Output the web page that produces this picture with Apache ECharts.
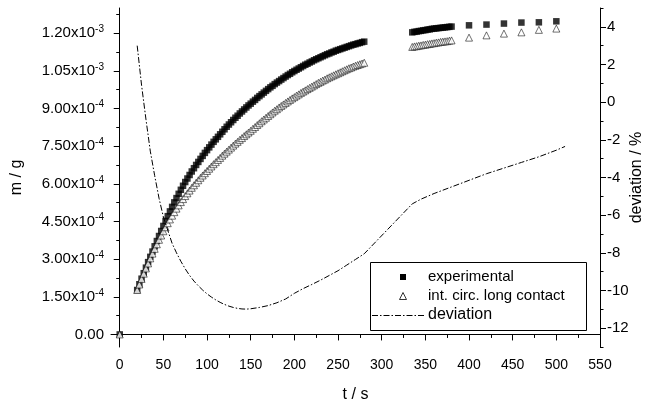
<!DOCTYPE html>
<html><head><meta charset="utf-8">
<script src="https://cdn.jsdelivr.net/npm/echarts@6/dist/echarts.min.js"></script>
<style>html,body{margin:0;padding:0;background:#fff}#c{width:649px;height:402px}</style>
</head><body><div id="c"></div>
<script>
// time (s) for the mass series
const timeS = [0,
 20,22.5,25,27.5,30,32.5,35,37.5,40,42.5,45,47.5,50,52.5,55,57.5,60,62.5,65,67.5,70,72.5,75,77.5,80,82.5,85,87.5,90,92.5,95,97.5,
 100,102.5,105,107.5,110,112.5,115,117.5,120,122.5,125,127.5,130,132.5,135,137.5,140,142.5,145,147.5,150,152.5,155,157.5,160,162.5,165,167.5,170,172.5,175,177.5,180,182.5,185,187.5,190,192.5,195,197.5,
 200,202.5,205,207.5,210,212.5,215,217.5,220,222.5,225,227.5,230,232.5,235,237.5,240,242.5,245,247.5,250,252.5,255,257.5,260,262.5,265,267.5,270,272.5,275,277.5,280,
 335,337.5,340,342.5,345,347.5,350,352.5,355,357.5,360,362.5,365,367.5,370,372.5,375,377.5,380,
 400,420,440,460,480,500];
// experimental mass, in units of 1e-3 g
const experimentalMg = [0,
 0.177,0.200,0.222,0.244,0.266,0.288,0.309,0.330,0.351,0.372,0.392,0.412,0.432,0.452,0.471,0.490,0.508,0.526,0.543,0.560,0.576,0.592,0.607,0.621,0.635,0.649,0.662,0.675,0.687,0.699,0.711,0.723,
 0.734,0.745,0.756,0.767,0.777,0.787,0.797,0.807,0.817,0.827,0.836,0.845,0.854,0.863,0.871,0.880,0.888,0.896,0.904,0.912,0.919,0.927,0.934,0.942,0.949,0.956,0.963,0.970,0.977,0.984,0.990,0.997,1.003,1.009,1.015,1.021,1.027,1.033,1.038,1.044,
 1.049,1.054,1.059,1.064,1.069,1.074,1.078,1.083,1.087,1.092,1.096,1.100,1.104,1.108,1.112,1.116,1.119,1.123,1.126,1.130,1.133,1.136,1.139,1.142,1.145,1.148,1.151,1.154,1.156,1.159,1.161,1.164,1.166,
 1.203,1.205,1.206,1.208,1.209,1.211,1.212,1.214,1.215,1.217,1.218,1.219,1.220,1.221,1.222,1.223,1.224,1.225,1.226,
 1.231,1.234,1.238,1.242,1.243,1.247];
// model "int. circ. long contact", in units of 1e-3 g
const modelMg = [0,
 0.177,0.199,0.221,0.242,0.263,0.283,0.303,0.322,0.341,0.359,0.377,0.394,0.411,0.427,0.443,0.458,0.473,0.487,0.501,0.514,0.527,0.539,0.551,0.562,0.573,0.584,0.594,0.604,0.614,0.624,0.633,0.642,
 0.651,0.660,0.669,0.678,0.686,0.695,0.703,0.712,0.720,0.728,0.736,0.744,0.752,0.760,0.767,0.775,0.782,0.790,0.797,0.804,0.811,0.819,0.826,0.834,0.841,0.849,0.856,0.863,0.870,0.877,0.884,0.891,0.897,0.904,0.910,0.916,0.922,0.928,0.934,0.940,
 0.945,0.951,0.956,0.962,0.967,0.972,0.977,0.982,0.987,0.992,0.997,1.002,1.006,1.011,1.015,1.020,1.024,1.028,1.032,1.036,1.040,1.044,1.048,1.052,1.056,1.060,1.063,1.067,1.070,1.073,1.076,1.079,1.082,
 1.145,1.147,1.148,1.150,1.151,1.153,1.154,1.156,1.157,1.159,1.160,1.162,1.163,1.165,1.166,1.167,1.168,1.170,1.171,
 1.182,1.191,1.198,1.203,1.213,1.218];
// deviation (%)
const devT = [20,25,30,35,40,45,50,55,60,65,70,75,80,85,90,95,100,105,110,115,120,125,130,135,140,145,150,160,170,180,190,200,210,220,230,240,250,260,270,280,335,345,360,380,400,420,440,460,480,500,510];
const devPct = [3.0,0.9,-0.9,-2.6,-3.9,-5.1,-6.1,-6.8,-7.5,-8.0,-8.45,-8.85,-9.2,-9.5,-9.75,-9.98,-10.18,-10.35,-10.5,-10.63,-10.74,-10.83,-10.9,-10.95,-10.98,-10.99,-10.97,-10.9,-10.8,-10.65,-10.45,-10.15,-9.9,-9.68,-9.45,-9.2,-8.95,-8.65,-8.35,-8.05,-5.4,-5.15,-4.85,-4.5,-4.15,-3.8,-3.5,-3.2,-2.9,-2.55,-2.35];

// ticks
const xTicks = [0,50,100,150,200,250,300,350,400,450,500,550];
const xMinor = [25,75,125,175,225,275,325,375,425,475,525];
const mTicks = [0,0.00015,0.0003,0.00045,0.0006,0.00075,0.0009,0.00105,0.0012];
const mMinor = [0.000075,0.000225,0.000375,0.000525,0.000675,0.000825,0.000975,0.001125,0.001275];
const devTicks = [-12,-10,-8,-6,-4,-2,0,2,4];
const devMinor = [-13,-11,-9,-7,-5,-3,-1,1,3,5];

// legend entries
const legendNames = ['experimental','int. circ. long contact','deviation'];

const MG = 1e-3;
const expData = timeS.map((t,i)=>[t, experimentalMg[i]*MG]);
const modData = timeS.map((t,i)=>[t, modelMg[i]*MG]);
const devData = devT.map((t,i)=>[t, devPct[i]]);

const FONT = '"Liberation Sans", Arial, sans-serif';
const black = '#000';
const DASHDOT = [6,2,1.5,2];

function mLabel(v){
  if (Math.abs(v) < 1e-12) return '{b|0.00}';
  const e = Math.floor(Math.log10(v) + 1e-9);
  const mant = v / Math.pow(10, e);
  return '{b|' + mant.toFixed(2) + 'x10}{s|' + e + '}';
}

const chart = echarts.init(document.getElementById('c'), null, {renderer:'canvas'});
const axisLine = {show:true, lineStyle:{color:black, width:1}};
chart.setOption({
  animation:false,
  backgroundColor:'#fff',
  textStyle:{fontFamily:FONT, color:black},
  grid:{left:111, right:49, top:8, bottom:55, containLabel:false, outerBoundsMode:'none'},
  xAxis:[
    {type:'value', min:-10, max:550, position:'bottom', axisLine,
     axisTick:{show:true, customValues:xTicks, length:6, lineStyle:{color:black}},
     axisLabel:{show:true, customValues:xTicks, fontSize:14, color:black, margin:11, fontFamily:FONT},
     splitLine:{show:false},
     name:'t / s', nameLocation:'middle', nameGap:40, nameTextStyle:{fontSize:16, color:black, fontFamily:FONT}},
    {type:'value', min:-10, max:550, position:'bottom', axisLine:{show:false},
     axisTick:{show:true, customValues:xMinor, length:3.5, lineStyle:{color:black}},
     axisLabel:{show:false}, splitLine:{show:false}}
  ],
  yAxis:[
    {type:'value', min:-0.00005, max:0.0013, position:'left', axisLine,
     axisTick:{show:true, customValues:mTicks, length:6, lineStyle:{color:black}},
     axisLabel:{show:true, customValues:mTicks, formatter:mLabel, color:black, margin:7, fontSize:15, fontFamily:FONT,
       rich:{b:{fontSize:15, lineHeight:18, fontFamily:FONT, color:black}, s:{fontSize:10, lineHeight:10, verticalAlign:'top', fontFamily:FONT, color:black}}},
     splitLine:{show:false},
     name:'m / g', nameLocation:'middle', nameGap:86, nameTextStyle:{fontSize:16, color:black, fontFamily:FONT}},
    {type:'value', min:-0.00005, max:0.0013, position:'left', axisLine:{show:false},
     axisTick:{show:true, customValues:mMinor, length:3.5, lineStyle:{color:black}},
     axisLabel:{show:false}, splitLine:{show:false}},
    {type:'value', min:-13, max:5, position:'right', axisLine,
     axisTick:{show:true, customValues:devTicks, length:6, lineStyle:{color:black}},
     axisLabel:{show:true, customValues:devTicks, color:black, fontSize:15, margin:7, fontFamily:FONT},
     splitLine:{show:false},
     name:'deviation / %', nameLocation:'middle', nameGap:29, nameMoveOverlap:false, nameTextStyle:{fontSize:16, color:black, fontFamily:FONT}},
    {type:'value', min:-13, max:5, position:'right', axisLine:{show:false},
     axisTick:{show:true, customValues:devMinor, length:3.5, lineStyle:{color:black}},
     axisLabel:{show:false}, splitLine:{show:false}}
  ],
  graphic:[
    {type:'rect', shape:{x:370.5, y:262.5, width:216, height:68}, style:{fill:'#fff', stroke:black, lineWidth:1}, z:100},
    {type:'rect', shape:{x:400, y:274, width:6, height:6}, style:{fill:black}, z:101},
    {type:'polygon', shape:{points:[[399.5,299.5],[406.5,299.5],[403,292.5]]}, style:{fill:'#fff', stroke:black, lineWidth:0.8}, z:101},
    {type:'line', shape:{x1:372, y1:315.5, x2:425, y2:315.5}, style:{stroke:black, lineWidth:1, lineDash:DASHDOT}, z:101},
    {type:'text', x:428, y:277, style:{text:legendNames[0], fontSize:15, fontFamily:FONT, fill:black, verticalAlign:'middle'}, z:101},
    {type:'text', x:428, y:296, style:{text:legendNames[1], fontSize:15, fontFamily:FONT, fill:black, verticalAlign:'middle'}, z:101},
    {type:'text', x:428, y:315, style:{text:legendNames[2], fontSize:16, fontFamily:FONT, fill:black, verticalAlign:'middle'}, z:101}
  ],
  series:[
    {name:legendNames[0], type:'scatter', xAxisIndex:0, yAxisIndex:0, data:expData,
     symbol:'rect', symbolSize:6.5, itemStyle:{color:black}, z:2},
    {name:legendNames[1], type:'scatter', xAxisIndex:0, yAxisIndex:0, data:modData,
     symbol:'triangle', symbolSize:7, itemStyle:{color:'#fff', borderColor:black, borderWidth:0.7}, z:3},
    {name:legendNames[2], type:'line', xAxisIndex:0, yAxisIndex:2, data:devData, showSymbol:false, symbol:'none',
     lineStyle:{color:black, width:1, type:DASHDOT}, itemStyle:{color:black}, z:4}
  ]
});
</script></body></html>
